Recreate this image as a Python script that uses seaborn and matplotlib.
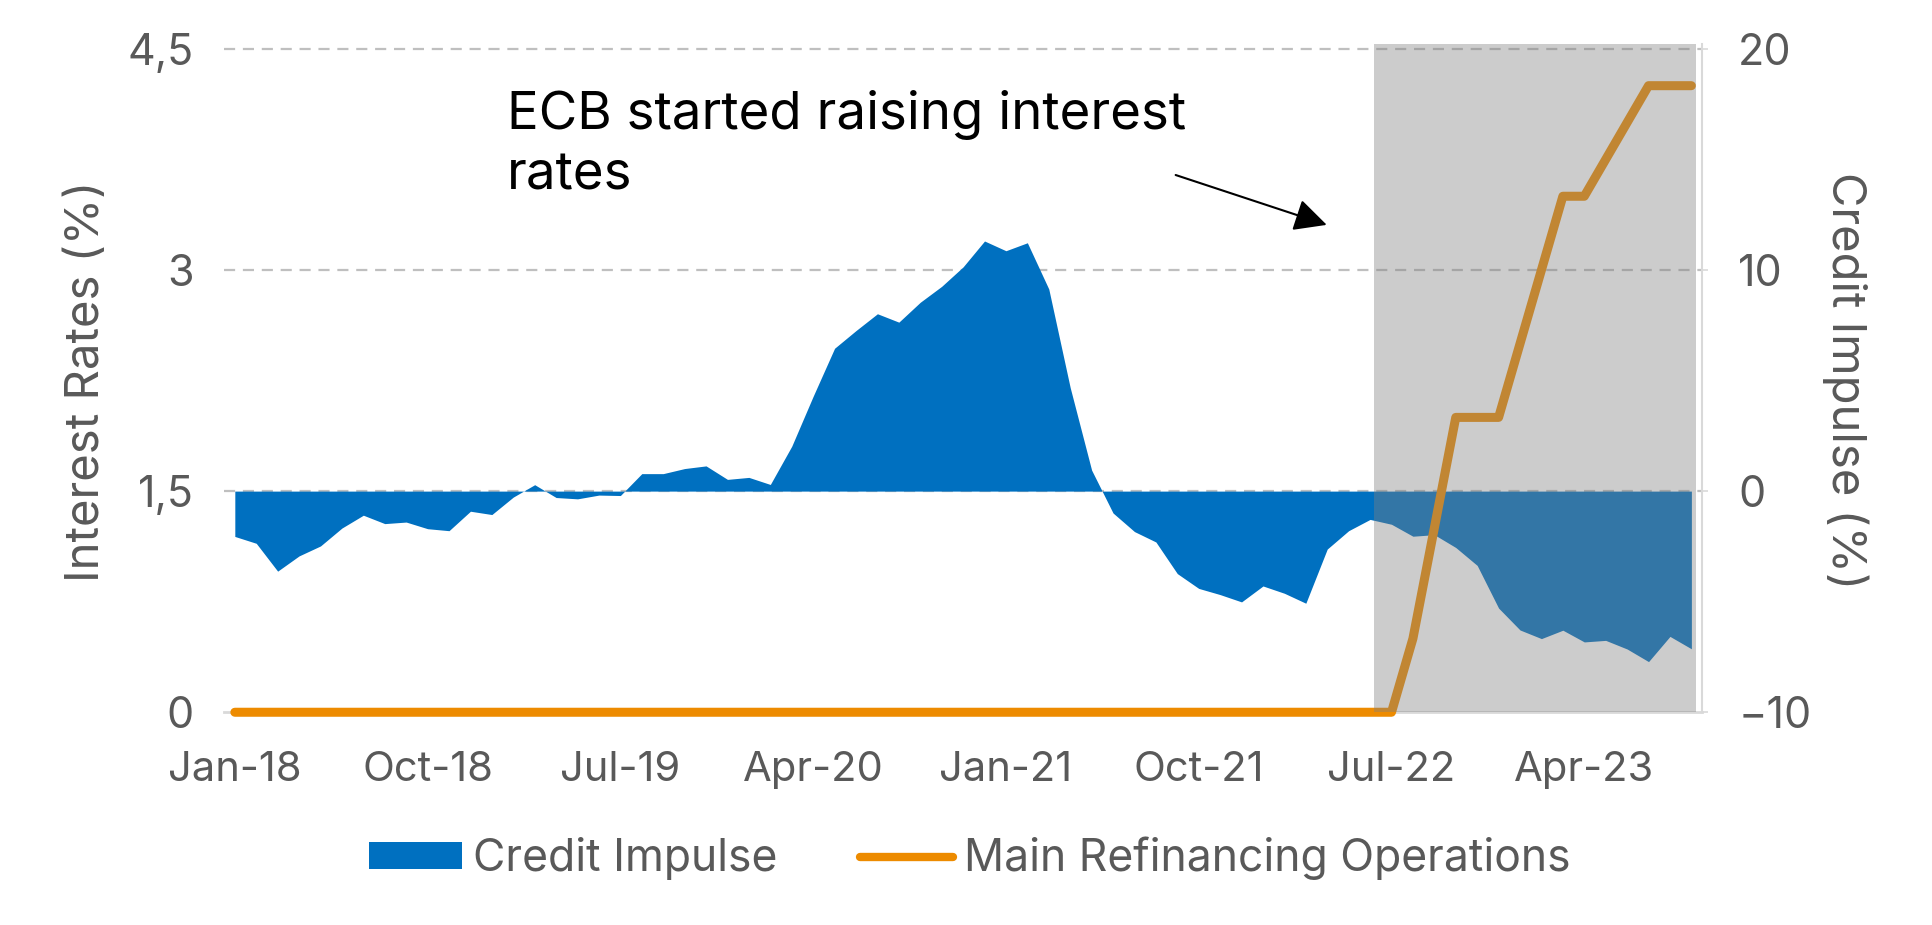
import matplotlib
matplotlib.use("Agg")
import matplotlib.pyplot as plt
import numpy as np
import pandas as pd
import seaborn as sns
from matplotlib.patches import Patch
from matplotlib.lines import Line2D

# monthly, Jan-18 .. Sep-23
credit_impulse = [-2.05, -2.36, -3.62, -2.93, -2.48, -1.67, -1.09, -1.47, -1.40, -1.70,
                  -1.79, -0.91, -1.06, -0.27, 0.29, -0.29, -0.35, -0.18, -0.20, 0.79,
                  0.79, 1.02, 1.14, 0.53, 0.62, 0.30, 2.03, 4.29, 6.46, 7.26,
                  8.02, 7.64, 8.54, 9.26, 10.14, 11.31, 10.87, 11.23, 9.14, 4.68,
                  0.95, -0.99, -1.83, -2.30, -3.73, -4.40, -4.68, -5.01, -4.29, -4.62,
                  -5.07, -2.62, -1.79, -1.28, -1.50, -2.04, -1.97, -2.55, -3.36, -5.29,
                  -6.28, -6.67, -6.29, -6.82, -6.75, -7.14, -7.71, -6.57, -7.13]
mro = [0.0] * 55 + [0.5, 1.25, 2.0, 2.0, 2.0, 2.5, 3.0, 3.5, 3.5, 3.75, 4.0, 4.25, 4.25, 4.25]
tick_labels = ["Jan-18", "Oct-18", "Jul-19", "Apr-20", "Jan-21", "Oct-21", "Jul-22", "Apr-23"]
rate_ticks = [0, 1.5, 3, 4.5]
rate_tick_labels = ["0", "1,5", "3", "4,5"]
ci_ticks = [-10, 0, 10, 20]

df = pd.DataFrame({"month": np.arange(len(credit_impulse)),
                   "ci": credit_impulse, "mro": mro})

sns.set_theme(style="white")
plt.rcParams["font.family"] = ["Inter", "DejaVu Sans"]

grey = "#595959"
fig = plt.figure(figsize=(19.32, 9.25), dpi=100)
ax = fig.add_axes([0.116, 0.230, 0.765, 0.722])
ax2 = ax.twinx()

# credit impulse area (right scale)
ax.fill_between(df["month"], 0, df["ci"], color="#0070C0", lw=0, zorder=2)
ax.set_xlim(-0.5, 68.5)
ax.set_ylim(-10, 20.2)
ax.set_yticks(ci_ticks)
ax.set_xticks(range(0, 69, 9))
ax.set_xticklabels(tick_labels)
for y in ci_ticks[1:]:
    ax.axhline(y, color="#BFBFBF", lw=1.6, ls=(0, (5, 3.5)), zorder=1)
for s in ["top", "left"]:
    ax.spines[s].set_visible(False)
ax.spines["bottom"].set_color("#D9D9D9")
ax.spines["bottom"].set_linewidth(2)
ax.spines["right"].set_color("#D9D9D9")
ax.spines["right"].set_linewidth(1.5)

# main refinancing rate (left scale)
sns.lineplot(data=df, x="month", y="mro", ax=ax2, color="#ED8B00", lw=6.5,
             solid_capstyle="round", clip_on=False, zorder=3)
ax2.set_ylim(0, 4.53)
ax2.set_yticks(rate_ticks)
ax2.set_yticklabels(rate_tick_labels)
ax2.set_xlabel("")
ax2.set_ylabel("")
for s in ax2.spines.values():
    s.set_visible(False)

# tick sides (after twinx)
ax.yaxis.tick_right()
ax2.yaxis.tick_left()
ax.tick_params(axis="x", length=0, labelsize=30, colors=grey, pad=28)
ax.tick_params(axis="y", length=4, width=1.2, color="#D9D9D9", labelsize=31,
               labelcolor=grey, pad=22)
ax2.tick_params(axis="y", length=0, labelsize=31, colors=grey, pad=22)

# shaded hiking period over everything
ax2.axvspan(53.2, 68.2, color=(0.5, 0.5, 0.5), alpha=0.4, lw=0, zorder=6)

ax2.text(12.7, 4.22, "ECB started raising interest\nrates", fontsize=38,
         color="black", ha="left", va="top", linespacing=1.3)
ax2.annotate("", xy=(51.1, 3.30), xytext=(43.8, 3.65),
             arrowprops=dict(arrowstyle="-|>", mutation_scale=50, lw=1.5, color="black"))

fig.text(0.045, 0.588, "Interest Rates (%)", rotation=90, ha="center", va="center",
         fontsize=34, color=grey)
fig.text(0.955, 0.588, "Credit Impulse (%)", rotation=270, ha="center", va="center",
         fontsize=34, color=grey)

handles = [Patch(facecolor="#0070C0", edgecolor="none"),
           Line2D([], [], color="#ED8B00", lw=6, solid_capstyle="round")]
fig.legend(handles, ["Credit Impulse", "Main Refinancing Operations"], loc="center",
           bbox_to_anchor=(0.502, 0.072), ncol=2, frameon=False, fontsize=32,
           labelcolor=grey, handlelength=2.1, handleheight=0.55, handletextpad=0.25,
           columnspacing=1.85)

fig.savefig("out.png", dpi=100)
